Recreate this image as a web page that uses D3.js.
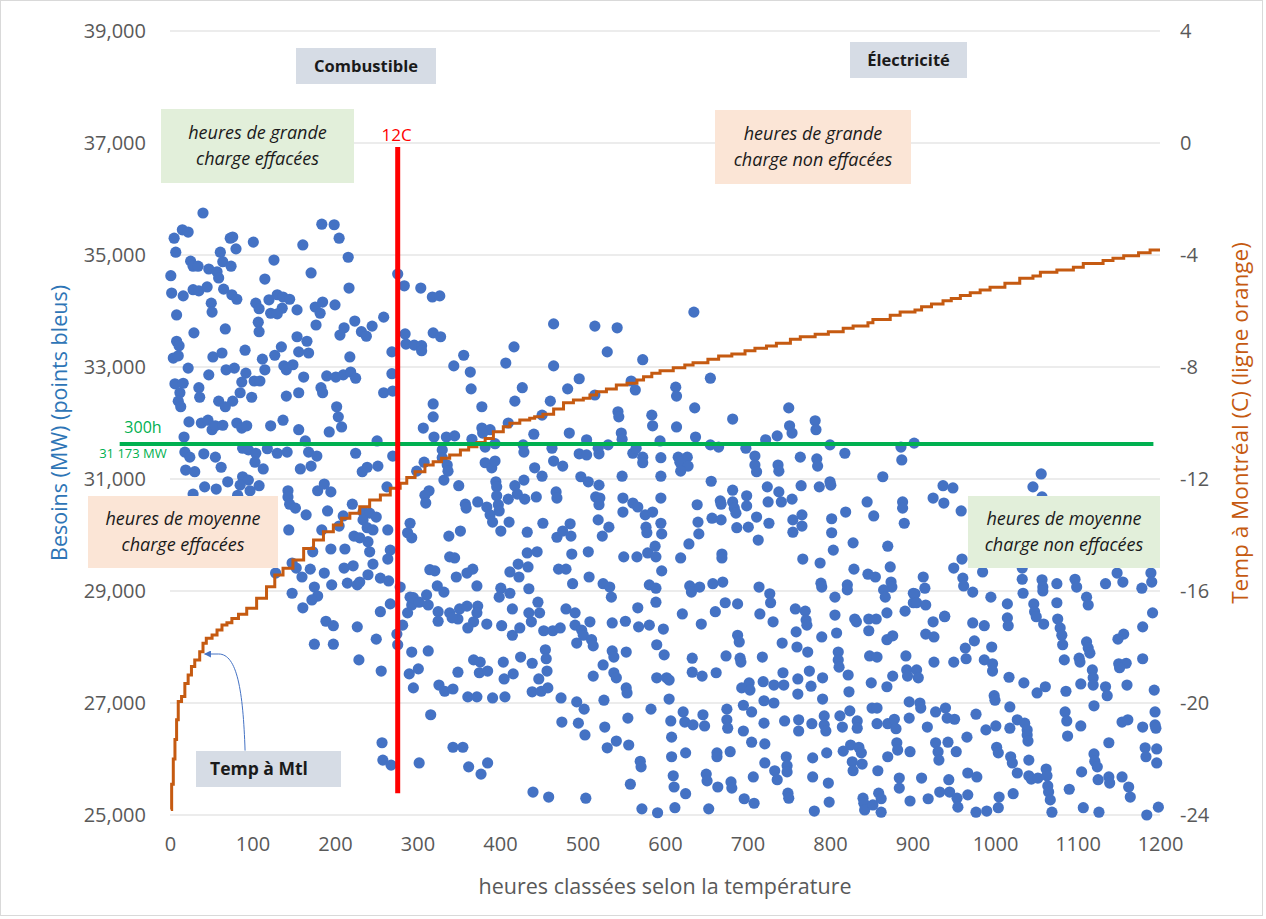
<!DOCTYPE html>
<html><head><meta charset="utf-8">
<script src="https://cdn.jsdelivr.net/npm/d3@7"></script>
<style>
body{margin:0;background:#fff}
svg{display:block;font-family:"Open Sans","Liberation Sans",sans-serif}
</style>
</head><body>
<svg id="chart" width="1266" height="919"></svg>
<script>
// ---------- data ----------
const leftTicks = [25000,27000,29000,31000,33000,35000,37000,39000];
const rightTicks = [-24,-20,-16,-12,-8,-4,0,4];
const xTicks = [0,100,200,300,400,500,600,700,800,900,1000,1100,1200];

// [heure classée, besoins MW]
const demandPoints = [
[40,35750],[15,35450],[22,35410],[5,35300],[7,35050],[184,35550],[199,35540],[205,35300],[73,35300],[76,35320],[80,35110],[101,35230],[161,35180],[61,35050],[216,34960],[126,34910],[25,34890],[28,34800],[34,34800],[64,34880],[74,34800],[47,34750],[57,34700],[59,34590],[1,34630],[171,34680],[115,34570],[276,34660],[284,34450],[217,34410],[2,34320],[16,34270],[28,34380],[35,34360],[45,34430],[65,34390],[75,34290],[81,34210],[50,34140],[51,33980],[8,33930],[104,34140],[108,34040],[120,34200],[130,34290],[137,34250],[145,34210],[136,34050],[122,33960],[130,33950],[154,34020],[176,34070],[185,34160],[182,33960],[200,34110],[107,33800],[108,33630],[67,33680],[29,33610],[177,33750],[224,33820],[211,33700],[206,33570],[232,33630],[238,33550],[245,33730],[259,33890],[285,33590],[286,33410],[296,33390],[8,33460],[11,33380],[4,33160],[10,33200],[22,32980],[52,33180],[63,33250],[91,33300],[112,33140],[127,33210],[135,33360],[154,33540],[166,33460],[156,33270],[168,33250],[218,33180],[269,33270],[47,32860],[68,32950],[78,32980],[92,32890],[115,32950],[138,33020],[141,32950],[149,33040],[162,32820],[190,32840],[201,32820],[210,32860],[219,32910],[225,32800],[269,32880],[6,32700],[16,32710],[12,32540],[10,32390],[13,32290],[35,32630],[36,32460],[87,32730],[102,32750],[109,32750],[85,32540],[76,32390],[59,32390],[67,32290],[99,32460],[141,32480],[156,32540],[183,32630],[185,32540],[202,32290],[259,32540],[270,32570],
[304,34410],[318,34250],[327,34270],[319,33610],[328,33540],[305,33380],[305,33290],[356,33210],[344,33020],[364,32910],[365,32610],[378,32290],[319,32340],[417,33360],[407,33070],[427,32630],[418,32390],[465,33770],[465,33020],[461,32390],[482,32610],[496,32790],[515,32500],[515,33730],[542,33700],[530,33270],[573,33130],[559,32750],[564,32590],
[635,33980],[655,32800],[613,32640],[614,32480],[636,32270],[750,32270],
[204,32110],[208,31930],[193,31840],[23,32020],[38,32000],[46,32050],[51,31880],[55,31950],[64,31960],[81,32000],[87,31910],[93,31950],[122,31950],[137,32050],[156,31880],[17,31750],[164,31680],[251,31680],[18,31480],[24,31390],[41,31450],[55,31390],[88,31550],[95,31520],[104,31460],[118,31540],[130,31460],[142,31480],[168,31480],[178,31410],[225,31460],[270,31410],[103,31300],[19,31160],[30,31130],[62,31210],[113,31180],[158,31180],[171,31230],[233,31130],[239,31210],[252,31230],[70,30950],[88,31040],[95,30980],[85,30890],[108,30880],[42,30860],[56,30820],[97,30790],[28,30730],[82,30710],[143,30790],[143,30680],[179,30790],[187,30910],[195,30770],[263,30860],[145,30550],[152,30480],[165,30360],[191,30430],[221,30550],[210,30340],[205,30160],[184,30090],[144,30090],[234,30410],[242,30390],[234,30270],[250,30320],[239,30130],[246,30090],[223,29980],[230,29950],[240,29880],[264,30090],[291,30210],[288,30040],[293,29950],[173,29700],[195,29750],[212,29750],[242,29700],[267,29730],[264,29570],[148,29500],[153,29410],[128,29320],[170,29390],[160,29250],[187,29320],[211,29410],[222,29450],[246,29480],[240,29290],[255,29230],[265,29180],[279,29070],[196,29110],[175,29070],[215,29140],[227,29110],[230,29160],[179,28910],[172,28840],[148,28960],[161,28700],[267,28770],[255,28630],[291,28890],[293,28750],[288,28610],
[319,32110],[307,31910],[320,31750],[335,31750],[345,31770],[366,31710],[378,31910],[388,31880],[379,31820],[410,32000],[451,32140],[441,31800],[484,31820],[543,32200],[544,32110],[584,32140],[585,31950],[547,31820],[548,31710],[594,31680],[330,31520],[330,31380],[308,31300],[299,31140],[336,31250],[337,31140],[332,30980],[382,31570],[394,31630],[428,31610],[429,31480],[382,31290],[390,31200],[394,31320],[442,31200],[451,31050],[463,31550],[465,31320],[476,31230],[496,31450],[505,31430],[505,31700],[520,31450],[519,31550],[531,31610],[561,31460],[565,31550],[573,31390],[573,31290],[595,31380],[548,31050],[595,31050],[498,31040],[507,30950],[520,30890],[350,30880],[314,30790],[309,30710],[310,30570],[395,30950],[396,30860],[418,30880],[429,30980],[421,30730],[410,30640],[430,30640],[444,30680],[396,30700],[398,30540],[399,30430],[373,30590],[384,30500],[388,30360],[391,30230],[358,30550],[359,30480],[411,30230],[401,30070],[468,30770],[469,30660],[516,30680],[521,30660],[520,30540],[549,30660],[549,30410],[561,30570],[567,30500],[576,30360],[585,30410],[595,30660],[519,30270],[532,30140],[524,29980],[577,30140],[578,30040],[595,30210],[596,30020],[338,29980],[352,30070],[433,30050],[452,30210],[469,29960],[476,30070],[485,30200],[486,29980],[339,29610],[345,29590],[433,29680],[445,29700],[487,29660],[507,29700],[550,29610],[566,29610],[579,29680],[588,29800],[589,29610],[315,29380],[321,29360],[360,29320],[367,29390],[347,29250],[422,29480],[434,29430],[412,29340],[423,29250],[471,29390],[480,29390],[508,29250],[324,29090],[332,28980],[372,29090],[401,29050],[399,28890],[412,28960],[435,29040],[446,28800],[488,29130],[525,29130],[533,29070],[535,28890],[581,29110],[589,29050],[589,28800],[596,29360],[567,28700],[295,28880],[302,28800],[311,28930],[313,28750],[325,28630],[339,28610],[351,28680],[360,28730],[373,28730],[372,28610],[415,28680],[435,28610],[448,28610],[480,28680],[491,28610],
[614,31930],[682,32070],[637,31750],[751,31950],[754,31820],[782,32040],[783,31880],[736,31770],[722,31700],[655,31610],[665,31570],[698,31550],[800,31610],[818,31460],[886,31570],[887,31340],[616,31390],[627,31390],[618,31300],[628,31230],[619,31140],[709,31410],[709,31250],[711,31130],[737,31250],[738,31140],[764,31390],[784,31360],[785,31230],[864,31040],[656,30960],[682,30800],[699,30700],[699,30520],[724,30860],[738,30770],[725,30590],[741,30590],[754,30640],[765,30880],[787,30860],[800,30950],[801,30890],[639,30540],[667,30610],[668,30550],[682,30590],[684,30480],[686,30390],[657,30300],[668,30270],[640,30230],[711,30320],[726,30210],[755,30270],[766,30360],[766,30160],[755,30050],[687,30130],[701,30140],[713,29910],[641,30020],[629,29840],[802,30290],[802,30040],[819,30410],[845,30590],[853,30340],[888,30590],[888,30480],[890,30210],[828,29860],[804,29730],[870,29800],[669,29660],[669,29590],[619,29590],[767,29570],[788,29500],[829,29390],[846,29300],[855,29250],[873,29430],[874,29160],[875,29070],[630,29090],[632,28980],[642,29070],[658,29130],[670,29160],[714,29070],[727,28950],[728,28790],[789,29140],[790,29070],[806,28890],[821,29110],[821,29020],[865,29020],[867,28890],[901,28960],[901,28790],[673,28790],[688,28770],[661,28630],[621,28590],[715,28590],[758,28680],[770,28640],[806,28570],[869,28610],[891,28640],
[902,31640],[937,30880],[949,30840],[925,30660],[938,30570],[959,30430],[1046,30860],[1056,31090],[1057,30680],[960,29570],[950,29410],[985,29340],[913,29250],[915,29050],[903,28950],[905,28790],[916,28750],[961,29230],[962,29090],[973,28980],[995,28890],[1015,28770],[1033,29410],[1033,29210],[1034,28960],[1047,28770],[1048,28630],[1057,29200],[1058,29070],[1058,29000],[1075,29130],[1075,28790],[1097,29210],[1099,29070],[1111,28890],[1113,28750],[1134,29130],[1148,29320],[1155,29160],[1178,29050],[1189,29320],[1190,29160],[1191,28610],[939,28550],
[189,28460],[198,28380],[227,28360],[282,28390],[275,28230],[250,28140],[175,28050],[198,28050],[229,27770],[256,27570],[276,28040],[293,27910],[290,27520],[295,27270],[257,26290],[258,25980],[268,25890],
[325,28460],[349,28500],[342,28520],[368,28450],[361,28340],[384,28410],[402,28380],[415,28210],[424,28340],[438,28450],[453,28290],[464,28290],[473,28340],[491,28390],[499,28300],[509,28450],[501,28210],[511,28130],[513,28020],[493,28070],[536,28430],[552,28460],[568,28360],[581,28390],[598,28320],[590,28040],[599,27860],[313,27930],[301,27610],[326,27320],[333,27210],[343,27250],[349,27550],[368,27770],[376,27730],[375,27540],[385,27570],[361,27110],[372,27110],[391,27090],[406,27110],[404,27730],[405,27430],[416,27520],[425,27820],[439,27710],[455,27950],[456,27790],[457,27570],[447,27430],[439,27200],[450,27210],[458,27270],[474,27090],[493,27020],[502,26890],[475,26660],[495,26640],[503,26430],[513,27480],[525,27680],[536,27930],[538,27820],[553,27910],[538,27540],[541,27450],[553,27270],[554,27180],[526,27050],[527,26570],[541,26320],[530,26200],[555,26730],[556,26250],[583,26890],[590,27450],[316,26790],[343,26210],[355,26210],[302,25930],[362,25860],[385,25930],[377,25730],[570,25960],[571,25860],[558,25550],[440,25410],[459,25320],[504,25300],[572,25110],[591,25040],
[644,28410],[731,28450],[771,28480],[772,28390],[830,28500],[832,28450],[847,28500],[856,28500],[759,28270],[790,28180],[808,28250],[847,28290],[869,28130],[876,28200],[688,28210],[690,28090],[742,28070],[760,28000],[773,27910],[633,27800],[674,27840],[691,27800],[692,27730],[718,27820],[810,27910],[810,27770],[811,27640],[848,27840],[857,27820],[892,27840],[893,27590],[894,27480],[602,27450],[605,27410],[633,27550],[645,27480],[662,27540],[605,27070],[693,27270],[702,27360],[703,27230],[719,27380],[732,27320],[743,27540],[744,27320],[761,27430],[761,27160],[775,27570],[777,27300],[791,27450],[822,27500],[823,27200],[850,27360],[869,27290],[876,27480],[720,27040],[732,27000],[791,27070],[695,26960],[705,26840],[675,26890],[675,26700],[676,26550],[695,26500],[622,26840],[624,26660],[634,26610],[646,26790],[648,26590],[607,26680],[608,26390],[720,26640],[745,26680],[762,26700],[762,26500],[778,26630],[793,26770],[793,26610],[795,26500],[812,26770],[815,26570],[824,26860],[833,26680],[833,26550],[851,26910],[857,26910],[857,26630],[870,26630],[878,26710],[880,26540],[896,27020],[896,26730],[705,26300],[721,26270],[608,26040],[625,26110],[663,26110],[663,26040],[679,26130],[721,25930],[747,26040],[748,25880],[748,25770],[733,25790],[736,25630],[707,25680],[779,26020],[796,26110],[816,26140],[825,26250],[835,26210],[838,26110],[827,25950],[828,25790],[839,25910],[858,25790],[870,26040],[881,26290],[882,26160],[897,26130],[884,25660],[884,25480],[610,25700],[611,25500],[625,25380],[650,25730],[651,25610],[664,25500],[680,25590],[681,25480],[696,25290],[708,25210],[653,25110],[612,25130],[749,25390],[750,25300],[779,25680],[798,25570],[799,25230],[781,25070],[840,25300],[841,25210],[842,25090],[852,25180],[859,25390],[862,25290],[862,25050],[897,25250],
[925,28450],[939,28540],[973,28430],[987,28380],[1015,28520],[1016,28380],[1050,28540],[1059,28410],[1076,28500],[1079,28340],[1081,28210],[1082,28040],[1179,28360],[1156,28230],[1149,28140],[916,28230],[926,28180],[975,28110],[964,27980],[996,28000],[965,27790],[987,27770],[997,27700],[997,27570],[950,27730],[926,27730],[905,27590],[907,27450],[1111,28090],[1113,27980],[1115,27890],[1102,27800],[1103,27730],[1084,27770],[1118,27590],[1119,27450],[1119,27320],[1150,27700],[1159,27710],[1151,27630],[1179,27790],[1017,27460],[1035,27360],[1051,27180],[1061,27290],[1086,27210],[1104,27340],[1134,27290],[1136,27130],[1160,27320],[1193,27230],[999,27130],[1000,27050],[909,27000],[910,26910],[1018,26930],[1120,26950],[928,26840],[940,26910],[942,26730],[951,26710],[977,26800],[918,26570],[989,26520],[1001,26590],[1018,26550],[1027,26700],[1036,26640],[1039,26520],[1039,26430],[1040,26320],[1085,26840],[1087,26680],[1088,26410],[1104,26590],[1154,26660],[1161,26700],[1179,26570],[1194,26840],[1194,26610],[1195,26550],[966,26390],[928,26290],[931,26130],[932,25980],[943,26300],[953,26130],[1002,26210],[1004,26110],[1019,26040],[1021,25930],[1041,25980],[1027,25750],[1041,25700],[1044,25640],[1052,25660],[1062,25820],[1063,25700],[1064,25520],[1065,25410],[1067,25270],[1069,25050],[967,25750],[978,25680],[911,25660],[944,25630],[933,25410],[945,25410],[954,25300],[955,25140],[967,25360],[919,25290],[977,25050],[990,25070],[1004,25130],[1005,25320],[1022,25380],[1090,25460],[1105,25770],[1107,25130],[1125,25630],[1126,25050],[1138,26290],[1120,26090],[1121,25960],[1124,25860],[1138,25680],[1139,25570],[1154,25680],[1162,25500],[1164,25320],[1182,26200],[1183,26040],[1196,26180],[1196,25930],[1184,25000],[1198,25140]
];

// [heure classée, température °C] (courbe en escalier)
const tempCurve = [
[1,-23.8],[2,-22.9],[4,-22.0],[6,-21.3],[8,-20.6],[10,-19.95],[14,-19.77],[18,-19.3],[22,-19.0],[26,-18.7],[30,-18.46],[36,-18.17],[40,-17.87],[44,-17.69],[51,-17.57],[57,-17.39],[63,-17.21],[69,-17.13],[75,-16.98],[83,-16.83],[93,-16.62],[105,-16.26],[117,-15.85],[127,-15.43],[137,-15.19],[149,-14.89],[162,-14.48],[174,-14.18],[186,-13.88],[198,-13.64],[208,-13.4],[218,-13.22],[230,-12.99],[242,-12.75],[255,-12.57],[267,-12.33],[279,-12.15],[287,-11.95],[297,-11.74],[309,-11.5],[319,-11.38],[329,-11.26],[339,-11.14],[352,-10.96],[362,-10.85],[372,-10.7],[382,-10.55],[392,-10.31],[404,-10.13],[412,-10.01],[424,-9.89],[436,-9.83],[442,-9.78],[452,-9.69],[465,-9.5],[477,-9.28],[489,-9.18],[501,-9.12],[509,-9.0],[517,-8.88],[529,-8.79],[541,-8.64],[554,-8.58],[566,-8.46],[574,-8.35],[584,-8.22],[594,-8.13],[610,-8.03],[624,-7.93],[634,-7.85],[652,-7.72],[665,-7.61],[681,-7.54],[697,-7.42],[709,-7.33],[723,-7.25],[735,-7.15],[752,-7.01],[764,-6.92],[782,-6.83],[798,-6.74],[816,-6.62],[828,-6.54],[846,-6.42],[852,-6.3],[873,-6.15],[885,-6.04],[903,-5.96],[911,-5.85],[923,-5.75],[937,-5.63],[947,-5.55],[958,-5.45],[970,-5.35],[982,-5.25],[994,-5.15],[1012,-5.01],[1030,-4.83],[1046,-4.75],[1055,-4.62],[1075,-4.54],[1095,-4.44],[1107,-4.3],[1131,-4.2],[1143,-4.12],[1156,-4.03],[1174,-3.92],[1188,-3.82],[1200,-3.82]
];

// seuils
const line12C = [[276,25390],[276,36930]];      // heure, MW
const line300h = [[-61,31625],[1192,31625]];    // heure, MW
const arrowPts = [[91,-21.7],[42,-18.25]];      // heure, °C (flèche "Temp à Mtl")

// ---------- drawing ----------
const FONT = '"Open Sans","Liberation Sans",sans-serif';
const svg = d3.select('#chart');
const x = d3.scaleLinear().domain([0,1200]).range([170,1160]);
const yL = d3.scaleLinear().domain([25000,39000]).range([815,31]);
const yR = d3.scaleLinear().domain([-24,4]).range([815,31]);

svg.append('rect').attr('x',0.5).attr('y',0.5).attr('width',1262).attr('height',915)
  .attr('fill','#fff').attr('stroke','#d9d9d9');

// grid
svg.append('g').selectAll('line').data(leftTicks).join('line')
  .attr('x1',x(0)).attr('x2',x(1200))
  .attr('y1',d=>yL(d)).attr('y2',d=>yL(d))
  .attr('stroke','#d9d9d9').attr('stroke-width',1.2);

// axes
const axL = svg.append('g').attr('transform',`translate(${x(0)},0)`)
  .call(d3.axisLeft(yL).tickValues(leftTicks).tickSize(0).tickPadding(24).tickFormat(d3.format(',')));
const axR = svg.append('g').attr('transform',`translate(${x(1200)},0)`)
  .call(d3.axisRight(yR).tickValues(rightTicks).tickSize(0).tickPadding(20).tickFormat(d=>d));
const axB = svg.append('g').attr('transform',`translate(0,${yL(25000)})`)
  .call(d3.axisBottom(x).tickValues(xTicks).tickSize(0).tickPadding(22).tickFormat(d=>d));
[axL,axR,axB].forEach(a=>{
  a.select('.domain').remove();
  a.selectAll('text').attr('fill','#595959').attr('font-size',20).attr('font-family',FONT);
});

// scatter
svg.append('g').selectAll('circle').data(demandPoints).join('circle')
  .attr('cx',d=>x(d[0])).attr('cy',d=>yL(d[1])).attr('r',5.6)
  .attr('fill','#4472c4');

// temperature step line
svg.append('path').datum(tempCurve)
  .attr('d',d3.line().x(d=>x(d[0])).y(d=>yR(d[1])).curve(d3.curveStepAfter))
  .attr('fill','none').attr('stroke','#c55a11').attr('stroke-width',3);

// green threshold
svg.append('path').datum(line300h)
  .attr('d',d3.line().x(d=>x(d[0])).y(d=>yL(d[1])))
  .attr('stroke','#00b050').attr('stroke-width',4).attr('fill','none');
// red 12C
svg.append('path').datum(line12C)
  .attr('d',d3.line().x(d=>x(d[0])).y(d=>yL(d[1])))
  .attr('stroke','#ff0000').attr('stroke-width',5).attr('fill','none');

svg.append('text').attr('x',x(line12C[0][0])-1).attr('y',yL(line12C[1][1])-6)
  .attr('text-anchor','middle').attr('fill','#ff0000').attr('font-size',17).text('12C');
svg.append('text').attr('x',143).attr('y',yL(line300h[0][1])-11)
  .attr('text-anchor','middle').attr('fill','#00b050').attr('font-size',16).text('300h');
svg.append('text').attr('x',133).attr('y',yL(line300h[0][1])+14)
  .attr('text-anchor','middle').attr('fill','#00b050').attr('font-size',13).text('31 173 MW');

// annotation boxes
function box(x0,y0,w,h,fill,lines,opts){
  const g = svg.append('g');
  g.append('rect').attr('x',x0).attr('y',y0).attr('width',w).attr('height',h).attr('fill',fill);
  const lh = opts.lh||26;
  const n = lines.length;
  lines.forEach((t,i)=>{
    g.append('text')
      .attr('x',opts.anchor==='start'?x0+opts.pad:x0+w/2)
      .attr('y',y0+h/2+(i-(n-1)/2)*lh)
      .attr('dy','0.35em')
      .attr('text-anchor',opts.anchor||'middle')
      .attr('font-size',opts.fs).attr('font-weight',opts.bold?'bold':'normal')
      .attr('font-style',opts.italic?'italic':'normal')
      .attr('fill','#1a1a1a').text(t);
  });
}
box(296,48,140,36,'#d6dce5',['Combustible'],{fs:16.5,bold:true});
box(850,42,117,36,'#d6dce5',['Électricité'],{fs:16.5,bold:true});
box(161,109,193,74,'#e2efda',['heures de grande','charge effacées'],{fs:18,italic:true});
box(715,110,196,74,'#fbe5d6',['heures de grande','charge non effacées'],{fs:18,italic:true});
box(88,496,190,72,'#fbe5d6',['heures de moyenne','charge effacées'],{fs:18,italic:true});
box(968,496,192,72,'#e2efda',['heures de moyenne','charge non effacées'],{fs:18,italic:true});

// arrow from "Temp à Mtl"
const a0 = [x(arrowPts[0][0]), yR(arrowPts[0][1])];
const a1 = [x(arrowPts[1][0]), yR(arrowPts[1][1])];
svg.append('defs').append('marker').attr('id','ah').attr('viewBox','0 0 10 10')
  .attr('refX',9).attr('refY',5).attr('markerWidth',7).attr('markerHeight',7).attr('orient','auto')
  .append('path').attr('d','M0,0L10,5L0,10z').attr('fill','#4472c4');
const p = d3.path();
p.moveTo(a0[0],a0[1]);
p.bezierCurveTo(a0[0]-2,a0[1]-60,a0[0]-8,a1[1],a1[0]+14,a1[1]);
p.lineTo(a1[0],a1[1]);
svg.append('path').attr('d',p.toString()).attr('fill','none')
  .attr('stroke','#4472c4').attr('stroke-width',1).attr('marker-end','url(#ah)');
box(196,751,145,36,'#d6dce5',['Temp à Mtl'],{fs:17.5,bold:true,anchor:'start',pad:14});

// axis titles
svg.append('text').attr('transform',`translate(59,${(31+815)/2}) rotate(-90)`)
  .attr('text-anchor','middle').attr('dy','0.35em').attr('fill','#2e75b6').attr('font-size',21.5)
  .text('Besoins (MW) (points bleus)');
svg.append('text').attr('transform',`translate(1240,${(31+815)/2}) rotate(-90)`)
  .attr('text-anchor','middle').attr('dy','0.35em').attr('fill','#c55a11').attr('font-size',22.5)
  .text('Temp à Montréal (C) (ligne orange)');
svg.append('text').attr('x',(170+1160)/2).attr('y',886)
  .attr('text-anchor','middle').attr('dy','0.35em').attr('fill','#595959').attr('font-size',21.5)
  .text('heures classées selon la température');
</script>
</body></html>
